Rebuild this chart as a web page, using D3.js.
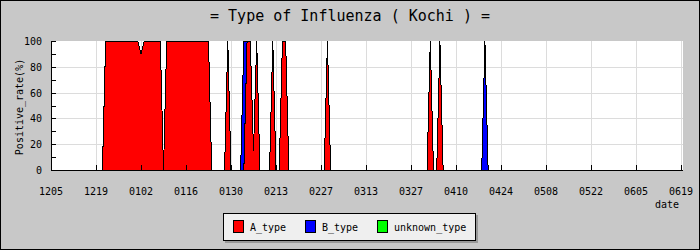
<!DOCTYPE html>
<html lang="en">
<head>
<meta charset="utf-8">
<title>Type of Influenza ( Kochi )</title>
<script src="https://cdnjs.cloudflare.com/ajax/libs/d3/7.8.5/d3.min.js"></script>
<style>
  body { margin: 0; background: #fff; }
  svg { display: block; }
  text { font-family: "DejaVu Sans Mono", monospace; fill: #000; }
</style>
</head>
<body>
<div id="chart"></div>
<script>
// x axis labels, one every 14 days starting 12/05
var tickLabels = ["1205", "1219", "0102", "0116", "0130", "0213", "0227", "0313",
                  "0327", "0410", "0424", "0508", "0522", "0605", "0619"];

// positive rate (%) per day, day 0 = 12/05 ... day 196 = 06/19, 14 days per row
var aType = [
  0, 0, 0, 0, 0, 0, 0, 0, 0, 0, 0, 0, 0, 0,
  0, 0, 0, 100, 100, 100, 100, 100, 100, 100, 100, 100, 100, 100,
  90, 100, 100, 100, 100, 100, 100, 0, 100, 100, 100, 100, 100, 100,
  100, 100, 100, 100, 100, 100, 100, 100, 0, 0, 0, 0, 0, 100,
  0, 0, 0, 0, 0, 100, 100, 15, 100, 0, 0, 0, 0, 100,
  0, 0, 100, 100, 0, 0, 0, 0, 0, 0, 0, 0, 0, 0,
  0, 0, 100, 0, 0, 0, 0, 0, 0, 0, 0, 0, 0, 0,
  0, 0, 0, 0, 0, 0, 0, 0, 0, 0, 0, 0, 0, 0,
  0, 0, 0, 0, 0, 0, 100, 0, 0, 100, 0, 0, 0, 0,
  0, 0, 0, 0, 0, 0, 0, 0, 0, 0, 0, 0, 0, 0,
  0, 0, 0, 0, 0, 0, 0, 0, 0, 0, 0, 0, 0, 0,
  0, 0, 0, 0, 0, 0, 0, 0, 0, 0, 0, 0, 0, 0,
  0, 0, 0, 0, 0, 0, 0, 0, 0, 0, 0, 0, 0, 0,
  0, 0, 0, 0, 0, 0, 0, 0, 0, 0, 0, 0, 0, 0,
  0
];
var bType = [
  0, 0, 0, 0, 0, 0, 0, 0, 0, 0, 0, 0, 0, 0,
  0, 0, 0, 0, 0, 0, 0, 0, 0, 0, 0, 0, 0, 0,
  0, 0, 0, 0, 0, 0, 0, 0, 0, 0, 0, 0, 0, 0,
  0, 0, 0, 0, 0, 0, 0, 0, 0, 0, 0, 0, 0, 0,
  0, 0, 0, 0, 100, 0, 0, 0, 0, 0, 0, 0, 0, 0,
  0, 0, 0, 0, 0, 0, 0, 0, 0, 0, 0, 0, 0, 0,
  0, 0, 0, 0, 0, 0, 0, 0, 0, 0, 0, 0, 0, 0,
  0, 0, 0, 0, 0, 0, 0, 0, 0, 0, 0, 0, 0, 0,
  0, 0, 0, 0, 0, 0, 0, 0, 0, 0, 0, 0, 0, 0,
  0, 0, 0, 0, 0, 0, 0, 0, 0, 100, 0, 0, 0, 0,
  0, 0, 0, 0, 0, 0, 0, 0, 0, 0, 0, 0, 0, 0,
  0, 0, 0, 0, 0, 0, 0, 0, 0, 0, 0, 0, 0, 0,
  0, 0, 0, 0, 0, 0, 0, 0, 0, 0, 0, 0, 0, 0,
  0, 0, 0, 0, 0, 0, 0, 0, 0, 0, 0, 0, 0, 0,
  0
];
var unknownType = aType.map(function() { return 0; }); // nothing unknown in the season

var seriesNames = ["A_type", "B_type", "unknown_type"];
var seriesColors = ["#ff0000", "#0000ff", "#00ff00"];
var yTicks = [0, 20, 40, 60, 80, 100];

var width = 700, height = 250;
var plotL = 51, plotR = 683, plotT = 41, plotB = 170;
var daysPerTick = 14;

var svg = d3.select("#chart").append("svg").attr("width", width).attr("height", height);

// background + frame
svg.append("rect").attr("x", 0.5).attr("y", 0.5).attr("width", width - 1).attr("height", height - 1)
  .attr("fill", "#c8c8c8").attr("stroke", "#000");
svg.append("rect").attr("x", plotL).attr("y", plotT).attr("width", plotR - plotL).attr("height", plotB - plotT)
  .attr("fill", "#fff");

var lastDay = (tickLabels.length - 1) * daysPerTick;
var x = d3.scaleLinear().domain([0, lastDay]).range([plotL, 681]);
var y = d3.scaleLinear().domain([0, 100]).range([plotB, plotT]);

// grid
svg.selectAll("line.hgrid").data(yTicks.slice(1, -1)).enter().append("line")
  .attr("x1", plotL).attr("x2", plotR)
  .attr("y1", function(d) { return Math.round(y(d)) + 0.5; })
  .attr("y2", function(d) { return Math.round(y(d)) + 0.5; })
  .attr("stroke", "#dcdcdc");
svg.selectAll("line.vgrid").data(tickLabels).enter().append("line")
  .attr("x1", function(d, i) { return Math.round(x(i * daysPerTick)) + 0.5; })
  .attr("x2", function(d, i) { return Math.round(x(i * daysPerTick)) + 0.5; })
  .attr("y1", plotT).attr("y2", plotB)
  .attr("stroke", "#dcdcdc");

// stacked areas
var rows = aType.map(function(v, i) {
  return { day: i, A_type: v, B_type: bType[i], unknown_type: unknownType[i] };
});
var stacked = d3.stack().keys(seriesNames)(rows);

var area = d3.area()
  .x(function(d) { return x(d.data.day); })
  .y0(function(d) { return y(d[0]); })
  .y1(function(d) { return y(d[1]); });
var topLine = d3.line()
  .x(function(d) { return x(d.data.day); })
  .y(function(d) { return y(d[1]); });

svg.selectAll("path.area").data(stacked).enter().append("path")
  .attr("d", area)
  .attr("fill", function(d, i) { return seriesColors[i]; })
  .attr("shape-rendering", "crispEdges");
svg.selectAll("path.edge").data(stacked).enter().append("path")
  .attr("d", topLine)
  .attr("fill", "none")
  .attr("stroke", "#000")
  .attr("stroke-width", 1)
  .attr("shape-rendering", "crispEdges");

// axes
svg.append("line").attr("x1", plotL + 0.5).attr("x2", plotL + 0.5).attr("y1", plotT).attr("y2", plotB)
  .attr("stroke", "#000");
svg.append("line").attr("x1", plotL).attr("x2", plotR).attr("y1", plotB + 0.5).attr("y2", plotB + 0.5)
  .attr("stroke", "#000");

// y ticks every 10, pointing into the plot
d3.range(0, 101, 10).forEach(function(v) {
  var yy = Math.round(y(v)) + 0.5;
  svg.append("line").attr("x1", plotL).attr("x2", plotL + 5).attr("y1", yy).attr("y2", yy).attr("stroke", "#000");
});
svg.selectAll("text.ylab").data(yTicks).enter().append("text")
  .attr("x", 42).attr("y", function(d) { return y(d) + 4; })
  .attr("text-anchor", "end").attr("font-size", "10px")
  .text(function(d) { return d; });

// x ticks + labels
tickLabels.forEach(function(t, i) {
  var xx = Math.round(x(i * daysPerTick)) + 0.5;
  svg.append("line").attr("x1", xx).attr("x2", xx).attr("y1", plotB - 5).attr("y2", plotB).attr("stroke", "#000");
  svg.append("text").attr("x", x(i * daysPerTick)).attr("y", 195)
    .attr("text-anchor", "middle").attr("font-size", "10px").text(t);
});
svg.append("text").attr("x", 679).attr("y", 208).attr("text-anchor", "end").attr("font-size", "10px").text("date");

svg.append("text").attr("transform", "translate(23,107) rotate(-90)")
  .attr("text-anchor", "middle").attr("font-size", "10px").text("Positive_rate(%)");

// title
svg.append("text").attr("x", 350).attr("y", 21).attr("text-anchor", "middle")
  .attr("font-size", "15px").text("= Type of Influenza ( Kochi ) =");

// legend
var lg = svg.append("g");
lg.append("rect").attr("x", 225).attr("y", 215).attr("width", 253).attr("height", 28).attr("fill", "#999");
lg.append("rect").attr("x", 223.5).attr("y", 213.5).attr("width", 252).attr("height", 27)
  .attr("fill", "#efefef").attr("stroke", "#000");
var legendX = [233, 305, 377];
seriesNames.forEach(function(name, i) {
  lg.append("rect").attr("x", legendX[i] + 0.5).attr("y", 220.5).attr("width", 10).attr("height", 12)
    .attr("fill", seriesColors[i]).attr("stroke", "#000");
  lg.append("text").attr("x", legendX[i] + 17).attr("y", 231).attr("font-size", "10px").text(name);
});
</script>
</body>
</html>
